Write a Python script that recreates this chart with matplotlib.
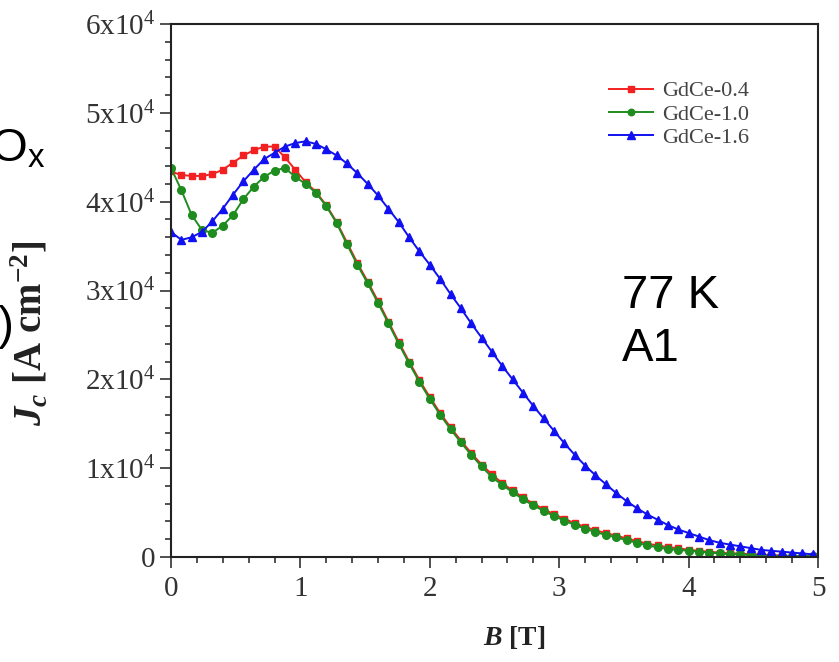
import numpy as np
import matplotlib
matplotlib.use("Agg")
import matplotlib.pyplot as plt
from matplotlib.ticker import MultipleLocator, FixedLocator

plt.rcParams['font.family'] = ['Liberation Serif', 'DejaVu Serif']
plt.rcParams['mathtext.fontset'] = 'custom'
plt.rcParams['mathtext.rm'] = 'Liberation Serif'
plt.rcParams['mathtext.it'] = 'Liberation Serif:italic'
plt.rcParams['mathtext.bf'] = 'Liberation Serif:bold'
plt.rcParams['mathtext.bfit'] = 'Liberation Serif:italic:bold'

# field grid (T), 0.08 T steps
B = np.round(np.arange(63) * 0.08, 2)

# Jc in units of 1e4 A/cm^2
jc_04 = [4.34, 4.30, 4.29, 4.29, 4.31, 4.36, 4.44, 4.52, 4.58, 4.62,
         4.62, 4.50, 4.36, 4.22, 4.11, 3.96, 3.77, 3.54, 3.31, 3.10,
         2.88, 2.65, 2.42, 2.20, 1.99, 1.80, 1.62, 1.46, 1.31, 1.17,
         1.04, 0.93, 0.83, 0.75, 0.67, 0.60, 0.54, 0.48, 0.43, 0.38,
         0.34, 0.30, 0.27, 0.24, 0.21, 0.18, 0.15, 0.13, 0.11, 0.10,
         0.08, 0.07, 0.06, 0.05, 0.04, 0.04, 0.03, 0.03, 0.02, 0.02,
         0.01, 0.01, 0.01]
jc_10 = [4.38, 4.13, 3.85, 3.68, 3.65, 3.73, 3.85, 4.03, 4.17, 4.28,
         4.35, 4.38, 4.28, 4.20, 4.10, 3.95, 3.76, 3.52, 3.29, 3.08,
         2.86, 2.63, 2.40, 2.18, 1.97, 1.78, 1.60, 1.44, 1.29, 1.15,
         1.02, 0.90, 0.81, 0.73, 0.65, 0.58, 0.52, 0.46, 0.41, 0.36,
         0.32, 0.28, 0.25, 0.22, 0.19, 0.16, 0.13, 0.11, 0.09, 0.08,
         0.07, 0.06, 0.05, 0.04, 0.03, 0.03, 0.02, 0.02, 0.01, 0.01,
         0.01, 0.01, 0.01]
jc_16 = [3.66, 3.57, 3.60, 3.66, 3.78, 3.92, 4.08, 4.23, 4.36, 4.48,
         4.55, 4.62, 4.66, 4.68, 4.65, 4.59, 4.52, 4.43, 4.32, 4.20,
         4.07, 3.92, 3.77, 3.60, 3.44, 3.29, 3.13, 2.96, 2.80, 2.63,
         2.47, 2.31, 2.15, 2.00, 1.85, 1.70, 1.56, 1.42, 1.28, 1.15,
         1.03, 0.92, 0.82, 0.72, 0.63, 0.55, 0.48, 0.42, 0.36, 0.31,
         0.27, 0.23, 0.19, 0.16, 0.14, 0.12, 0.10, 0.08, 0.07, 0.06,
         0.05, 0.04, 0.03]

series = [
    ('GdCe-0.4', jc_04, '#f22020', 's', 5),
    ('GdCe-1.0', jc_10, '#1e8c1e', 'o', 5.5),
    ('GdCe-1.6', jc_16, '#1010f0', '^', 6),
]

ytick_vals = [0, 1, 2, 3, 4, 5, 6]
ytick_labels = ['0'] + [r'$\mathregular{%dx10^4}$' % v for v in ytick_vals[1:]]

fig = plt.figure(figsize=(8.39, 6.62), dpi=100)
ax = fig.add_axes([0.2038, 0.1586, 0.7712, 0.8051])

for name, jc, color, marker, ms in series:
    ax.plot(B, np.array(jc) * 1e4, color=color, marker=marker, ms=ms,
            lw=1.4, label=name)

ax.set_xlim(0, 5)
ax.set_ylim(0, 6e4)
ax.xaxis.set_major_locator(MultipleLocator(1))
ax.xaxis.set_minor_locator(MultipleLocator(0.2))
ax.yaxis.set_major_locator(FixedLocator([v * 1e4 for v in ytick_vals]))
ax.yaxis.set_minor_locator(MultipleLocator(2000))
ax.set_yticklabels(ytick_labels)

ax.tick_params(which='both', direction='out', top=False, right=False,
               colors='#333333', width=1.2)
ax.tick_params(axis='y', labelsize=21)
ax.tick_params(axis='x', labelsize=21)
ax.tick_params(which='major', length=8, pad=3)
ax.tick_params(axis='x', which='major', pad=6)
ax.tick_params(which='minor', length=4)
for sp in ax.spines.values():
    sp.set_color('#222222')
    sp.set_linewidth(1.5)

ax.set_xlabel(r'$\mathbfit{B}$ [T]', fontsize=20, fontweight='bold',
              color='#222222')
ax.xaxis.set_label_coords(0.53, -0.125)
ax.set_ylabel(r'$\mathbfit{J_c}$ [A cm$^{\mathbf{-2}}$]', fontsize=28,
              fontweight='bold', color='#222222')
ax.yaxis.set_label_coords(-0.187, 0.42)

ax.legend(loc='upper left', bbox_to_anchor=(0.663, 0.91), frameon=False,
          fontsize=16, handlelength=2.0, handletextpad=0.4,
          labelspacing=0.12, labelcolor='#444444', markerscale=0.85,
          borderaxespad=0)

ax.text(0.697, 0.44, '77 K\nA1', transform=ax.transAxes, fontsize=34,
        family='Liberation Sans', va='center', ha='left', linespacing=1.28)

# fragments of neighbouring panel labels cut at the left edge
fig.text(45 / 839, 1 - 150 / 662, r'O$_\mathregular{x}$', fontsize=34,
         family='Liberation Sans', ha='right', va='center')
fig.text(14 / 839, 1 - 327 / 662, '(c)', fontsize=34,
         family='Liberation Sans', ha='right', va='center')

fig.savefig('out.png', dpi=100, facecolor='white')
